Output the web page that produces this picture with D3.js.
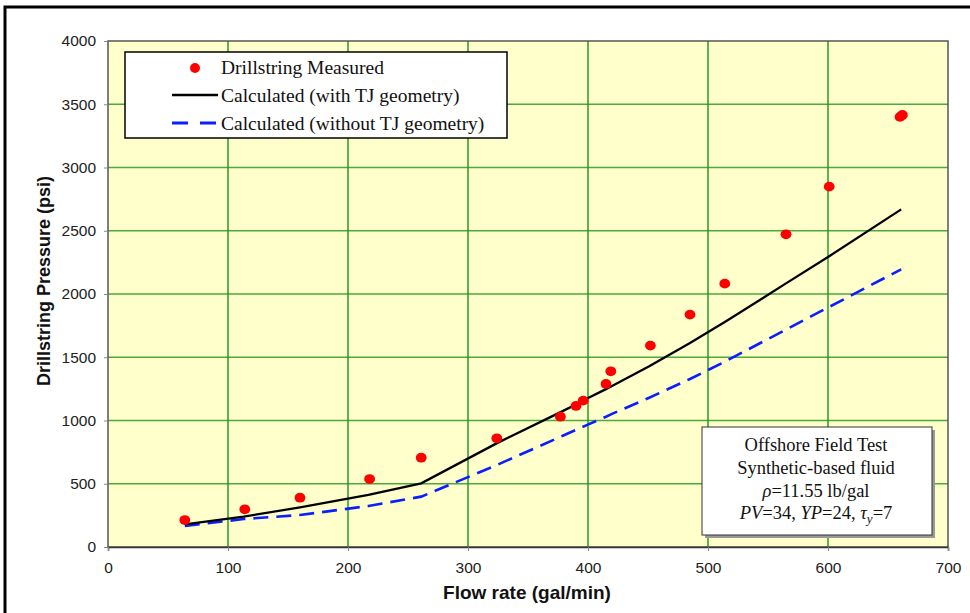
<!DOCTYPE html>
<html>
<head>
<meta charset="utf-8">
<script src="https://cdn.jsdelivr.net/npm/d3@7"></script>
<style>
  body { margin: 0; background: #fff; }
  svg { display: block; }
  .tick text { font-family: "Liberation Sans", Arial, sans-serif; font-size: 15.5px; fill: #222; }
  .serif { font-family: "Liberation Serif", "Times New Roman", serif; fill: #111; }
</style>
</head>
<body>
<script>
// Datos
var measuredFlow = [64, 114, 160, 218, 261, 324, 377, 390, 396, 415, 419, 452, 485, 514, 565, 601, 660, 662];
var measuredPsi  = [213, 298, 390, 537, 706, 859, 1030, 1115, 1157, 1289, 1389, 1592, 1837, 2082, 2472, 2849, 3400, 3415];

var calcFlow     = [64, 113, 160, 217, 261, 325, 378, 392, 398, 415, 420, 451, 485, 514, 565, 602, 661];
var calcTJ       = [179, 240, 313, 412, 503, 825, 1070, 1137, 1168, 1248, 1272, 1428, 1612, 1778, 2084, 2305, 2669];
var calcNoTJ     = [166, 221, 253, 324, 398, 652, 875, 934, 960, 1030, 1052, 1180, 1328, 1465, 1719, 1903, 2195];

var xTicks = [0, 100, 200, 300, 400, 500, 600, 700];
var yTicks = [0, 500, 1000, 1500, 2000, 2500, 3000, 3500, 4000];

var legendLabels = ["Drillstring Measured", "Calculated (with TJ geometry)", "Calculated (without TJ geometry)"];

var W = 970, H = 613;
var margin = {top: 41, right: 22, bottom: 66, left: 108};
var width = W - margin.left - margin.right;
var height = H - margin.top - margin.bottom;

var svg = d3.select("body").append("svg")
  .attr("width", W)
  .attr("height", H);

// marco exterior
svg.append("path")
  .attr("d", "M5," + H + " V7 H" + W)
  .attr("fill", "none")
  .attr("stroke", "#000")
  .attr("stroke-width", 3);

var x = d3.scaleLinear().domain([0, 700]).range([0, width]);
var y = d3.scaleLinear().domain([0, 4000]).range([height, 0]);

var g = svg.append("g").attr("transform", "translate(" + margin.left + "," + margin.top + ")");

g.append("rect")
  .attr("width", width)
  .attr("height", height)
  .attr("fill", "#ffffcc");

// rejilla
g.selectAll(".hgrid")
  .data(yTicks.slice(1, -1))
  .enter().append("line")
  .attr("x1", 0).attr("x2", width)
  .attr("y1", d => y(d)).attr("y2", d => y(d))
  .attr("stroke", "#4fa83a")
  .attr("stroke-width", 1.6);

g.selectAll(".vgrid")
  .data(xTicks.slice(1, -1))
  .enter().append("line")
  .attr("x1", d => x(d)).attr("x2", d => x(d))
  .attr("y1", 0).attr("y2", height)
  .attr("stroke", "#1f8f1f")
  .attr("stroke-width", 1.4);

g.append("rect")
  .attr("width", width)
  .attr("height", height)
  .attr("fill", "none")
  .attr("stroke", "#555")
  .attr("stroke-width", 1.5);

// ejes
var fmt = d3.format("d");
var yAxis = d3.axisLeft(y).tickValues(yTicks).tickFormat(fmt).tickSize(4).tickPadding(8);
var xAxis = d3.axisBottom(x).tickValues(xTicks).tickFormat(fmt).tickSize(4).tickPadding(11);

g.append("g").call(yAxis)
  .call(a => a.select(".domain").remove())
  .call(a => a.selectAll("line").attr("stroke", "#888"));

g.append("g")
  .attr("transform", "translate(0," + height + ")")
  .call(xAxis)
  .call(a => a.select(".domain").attr("stroke", "#333").attr("stroke-width", 1.5))
  .call(a => a.selectAll("line").attr("stroke", "#888"));

svg.append("text")
  .attr("transform", "translate(50," + 281 + ") rotate(-90)")
  .attr("text-anchor", "middle")
  .style("font-family", "'Liberation Sans', Arial, sans-serif")
  .style("font-size", "18px")
  .style("font-weight", "bold")
  .attr("fill", "#111")
  .text("Drillstring Pressure (psi)");

svg.append("text")
  .attr("x", 527)
  .attr("y", 599)
  .attr("text-anchor", "middle")
  .style("font-family", "'Liberation Sans', Arial, sans-serif")
  .style("font-size", "19px")
  .style("font-weight", "bold")
  .attr("fill", "#111")
  .text("Flow rate (gal/min)");

// lineas calculadas
var calcLine = d3.line().x((d, i) => x(calcFlow[i])).y(d => y(d));

g.append("path")
  .datum(calcNoTJ)
  .attr("d", calcLine)
  .attr("fill", "none")
  .attr("stroke", "#0a1eff")
  .attr("stroke-width", 2.6)
  .attr("stroke-dasharray", "15,8");

g.append("path")
  .datum(calcTJ)
  .attr("d", calcLine)
  .attr("fill", "none")
  .attr("stroke", "#000")
  .attr("stroke-width", 2.3);

// puntos medidos
g.selectAll(".pt")
  .data(measuredPsi)
  .enter().append("ellipse")
  .attr("cx", (d, i) => x(measuredFlow[i]))
  .attr("cy", d => y(d))
  .attr("rx", 5.4)
  .attr("ry", 4.9)
  .attr("fill", "#ff0000");

// leyenda
var leg = svg.append("g").attr("transform", "translate(125,52)");
leg.append("rect")
  .attr("width", 382).attr("height", 86)
  .attr("fill", "#fff")
  .attr("stroke", "#000")
  .attr("stroke-width", 1.5);

leg.append("circle").attr("cx", 70).attr("cy", 16).attr("r", 5).attr("fill", "#ff0000");
leg.append("line").attr("x1", 47).attr("x2", 93).attr("y1", 43).attr("y2", 43)
  .attr("stroke", "#000").attr("stroke-width", 2.5);
leg.append("line").attr("x1", 47).attr("x2", 93).attr("y1", 71).attr("y2", 71)
  .attr("stroke", "#0a1eff").attr("stroke-width", 2.8).attr("stroke-dasharray", "16,12");

leg.selectAll(".lt")
  .data(legendLabels)
  .enter().append("text")
  .attr("class", "serif")
  .attr("x", 96)
  .attr("y", (d, i) => 22 + i * 28)
  .style("font-size", "19.5px")
  .text(d => d);

// caja de anotacion
var ann = svg.append("g").attr("transform", "translate(702,427)");
ann.append("rect")
  .attr("x", 3).attr("y", 3)
  .attr("width", 230).attr("height", 108)
  .attr("fill", "#999");
ann.append("rect")
  .attr("width", 230).attr("height", 108)
  .attr("fill", "#fff")
  .attr("stroke", "#333")
  .attr("stroke-width", 1);

var cx = 114;
var fs = "18.5px";
ann.append("text").attr("class", "serif").attr("x", cx).attr("y", 24)
  .attr("text-anchor", "middle").style("font-size", fs).text("Offshore Field Test");
ann.append("text").attr("class", "serif").attr("x", cx).attr("y", 47)
  .attr("text-anchor", "middle").style("font-size", fs).text("Synthetic-based fluid");

var t3 = ann.append("text").attr("class", "serif").attr("x", cx).attr("y", 70)
  .attr("text-anchor", "middle").style("font-size", fs);
t3.append("tspan").style("font-style", "italic").text("ρ");
t3.append("tspan").text("=11.55 lb/gal");

var t4 = ann.append("text").attr("class", "serif").attr("x", cx).attr("y", 92)
  .attr("text-anchor", "middle").style("font-size", fs);
t4.append("tspan").style("font-style", "italic").text("PV");
t4.append("tspan").text("=34, ");
t4.append("tspan").style("font-style", "italic").text("YP");
t4.append("tspan").text("=24, ");
t4.append("tspan").style("font-style", "italic").text("τ");
t4.append("tspan").style("font-style", "italic").style("font-size", "13px").attr("dy", 4).text("y");
t4.append("tspan").attr("dy", -4).text("=7");
</script>
</body>
</html>
